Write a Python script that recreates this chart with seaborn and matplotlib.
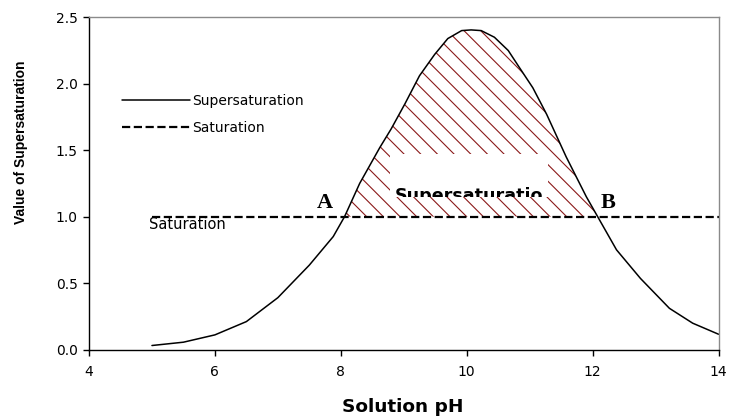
import matplotlib
matplotlib.use("Agg")
import matplotlib.pyplot as plt
from matplotlib.patches import Rectangle
from matplotlib.transforms import Bbox, TransformedBbox
import seaborn as sns
import pandas as pd
import numpy as np

sns.set_style("ticks")
plt.rcParams['font.family'] = ['DejaVu Sans']
plt.rcParams['text.color'] = 'black'
plt.rcParams['axes.labelcolor'] = 'black'
plt.rcParams['xtick.color'] = 'black'
plt.rcParams['ytick.color'] = 'black'
plt.rcParams['hatch.linewidth'] = 0.8

# values
ph = [5.0, 5.5, 6.0, 6.5, 7.0, 7.5, 7.88, 8.06, 8.30, 8.62, 8.80, 9.02, 9.25, 9.49,
      9.70, 9.92, 10.07, 10.23, 10.44, 10.66, 10.84, 11.05, 11.27, 11.58, 11.90,
      12.08, 12.38, 12.76, 13.22, 13.59, 14.0]
supersat = [0.03, 0.055, 0.11, 0.21, 0.39, 0.635, 0.85, 1.0, 1.25, 1.52, 1.66, 1.85, 2.06, 2.22,
            2.34, 2.40, 2.405, 2.40, 2.35, 2.25, 2.12, 1.97, 1.77, 1.45, 1.15,
            1.0, 0.75, 0.535, 0.31, 0.198, 0.115]
sat_ph = [5.0, 14.0]
sat_val = [1.0, 1.0]

xticks = [4, 6, 8, 10, 12, 14]
yticks = [0.0, 0.5, 1.0, 1.5, 2.0, 2.5]

df = pd.DataFrame({'pH': ph, 'S': supersat})
df_sat = pd.DataFrame({'pH': sat_ph, 'S': sat_val})

fig = plt.figure(figsize=(7.31, 4.19), dpi=100)
ax = fig.add_axes([89/731, 1-349.5/419, 629.5/731, 332.2/419])

sns.lineplot(data=df, x='pH', y='S', color='black', lw=1.1, ax=ax, label='Supersaturation')
sns.lineplot(data=df_sat, x='pH', y='S', color='black', lw=1.6, ax=ax,
             linestyle='--', dashes=(3.6, 1.9), label='Saturation')

# hatched supersaturation zone
x_arr = np.array(ph)
y_arr = np.array(supersat)
ax.fill_between(x_arr, y_arr, 1.0, where=y_arr >= 1.0, interpolate=True,
                facecolor='none', edgecolor='#8B1A1A', hatch='\\\\', linewidth=0, zorder=1)

# white label box, text cut off at the bottom
box = Rectangle((8.78, 1.147), 2.51, 0.328, facecolor='white', edgecolor='none', zorder=2)
ax.add_patch(box)
t = ax.text(8.86, 1.222, 'Supersaturatio', fontsize=12.6, fontweight='bold',
            va='top', ha='left', zorder=3)
t.set_clip_on(True)
t.set_clip_box(TransformedBbox(Bbox([[8.78, 1.147], [11.29, 1.475]]), ax.transData))

ax.text(7.75, 1.10, 'A', family='Liberation Serif', fontweight='bold', fontsize=16,
        ha='center', va='center')
ax.text(12.25, 1.10, 'B', family='Liberation Serif', fontweight='bold', fontsize=16,
        ha='center', va='center')
ax.text(4.96, 0.94, 'Saturation', fontsize=10.5, ha='left', va='center')

ax.set_xlim(4, 14)
ax.set_ylim(0, 2.5)
ax.set_xticks(xticks)
ax.set_yticks(yticks)
ax.set_xticklabels([str(v) for v in xticks])
ax.set_yticklabels(['%.1f' % v for v in yticks])
ax.tick_params(axis='both', direction='out', length=4, width=1, labelsize=10, color='black')
ax.tick_params(axis='x', pad=7)
ax.tick_params(axis='y', pad=4)

for side in ['top', 'right']:
    ax.spines[side].set_visible(True)
    ax.spines[side].set_color('#8a8a8a')
    ax.spines[side].set_linewidth(1)
for side in ['left', 'bottom']:
    ax.spines[side].set_color('black')
    ax.spines[side].set_linewidth(1)

ax.set_xlabel('Solution pH', fontsize=13.3, fontweight='bold')
ax.set_ylabel('Value of Supersaturation', family='Liberation Sans', fontsize=10, fontweight='bold')
ax.xaxis.set_label_coords(0.499, -0.146)
ax.yaxis.set_label_coords(-0.097, 0.623)

ax.legend(loc='upper left', bbox_to_anchor=(0.052, 0.769), frameon=False, fontsize=10,
          handlelength=4.9, handletextpad=0.2, labelspacing=0.95, borderpad=0, borderaxespad=0)

plt.savefig('out.png', dpi=100)
